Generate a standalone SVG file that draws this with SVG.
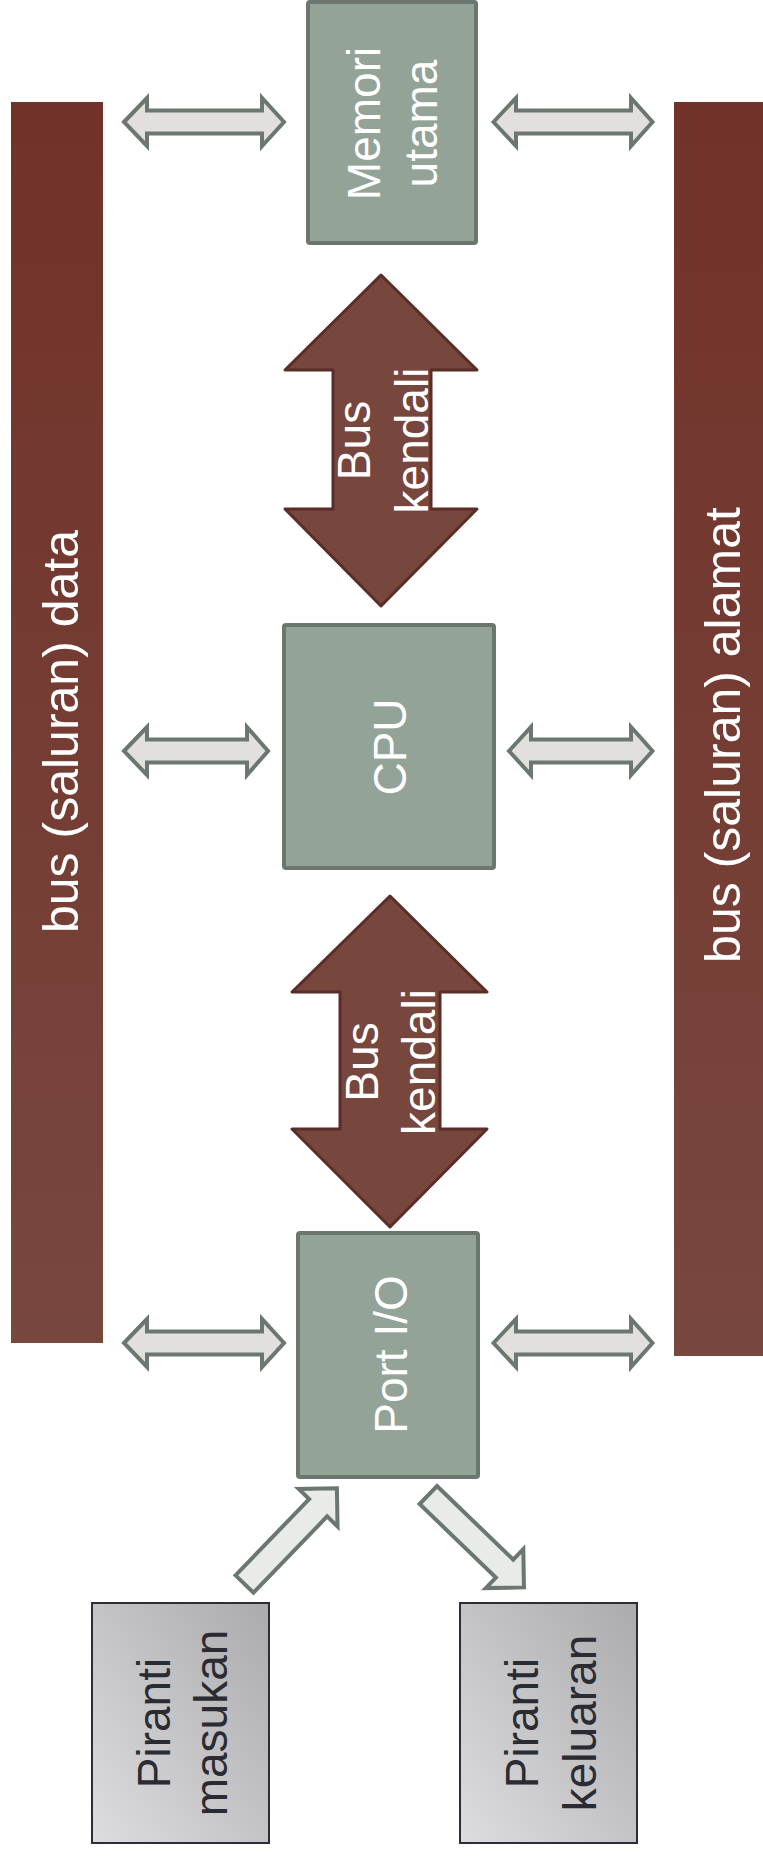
<svg xmlns="http://www.w3.org/2000/svg" width="763" height="1857" viewBox="0 0 763 1857">
  <defs>
    <linearGradient id="busGrad" x1="0" y1="0" x2="0" y2="1">
      <stop offset="0" stop-color="#713229"/>
      <stop offset="1" stop-color="#78473E"/>
    </linearGradient>
    <linearGradient id="devGrad" x1="1" y1="0" x2="0" y2="1">
      <stop offset="0" stop-color="#ABABAE"/>
      <stop offset="1" stop-color="#DDDDDF"/>
    </linearGradient>
    <style>
      .bus { fill: url(#busGrad); }
      .unit { fill: #93A398; stroke: #6B776E; stroke-width: 4; }
      .dev { fill: url(#devGrad); stroke: #2D2D35; stroke-width: 2; }
      .ctl { fill: #77463D; stroke: #5A2D28; stroke-width: 3; stroke-linejoin: round; }
      .dbl { fill: #E3DFDC; stroke: #6B786F; stroke-width: 4; stroke-linejoin: miter; }
      .io { fill: #E8EBE8; stroke: #6B786F; stroke-width: 4; stroke-linejoin: miter; }
      .t { font-family: "Liberation Sans", Arial, sans-serif; font-size: 46px; text-anchor: middle; fill: #FFFFFF; }
      .tb { font-size: 50px; }
      .td { fill: #2B2B33; }
    </style>
  </defs>

  <g id="bus-data">
    <rect class="bus" x="11" y="102" width="92" height="1241"/>
    <text class="t tb" transform="translate(57,731.5) rotate(-90)" x="0" y="21">bus (saluran) data</text>
  </g>

  <g id="bus-alamat">
    <rect class="bus" x="674" y="102" width="89" height="1254"/>
    <text class="t tb" transform="translate(718,735) rotate(-90)" x="0" y="22">bus (saluran) alamat</text>
  </g>

  <g id="memori-utama">
    <rect class="unit" x="308" y="2" width="168" height="241" rx="2"/>
    <text class="t" transform="translate(392,123.5) rotate(-90)"><tspan x="0" y="-12">Memori</tspan><tspan x="0" y="45">utama</tspan></text>
  </g>

  <g id="cpu">
    <rect class="unit" x="284" y="625" width="210" height="243" rx="2"/>
    <text class="t" transform="translate(389,747) rotate(-90)" x="0" y="17">CPU</text>
  </g>

  <g id="port-io">
    <rect class="unit" x="298" y="1233" width="180" height="244" rx="2"/>
    <text class="t" transform="translate(388,1354.5) rotate(-90)" x="0" y="19">Port I/O</text>
  </g>

  <g id="piranti-masukan">
    <rect class="dev" x="92" y="1603" width="177" height="240"/>
    <text class="t td" transform="translate(180.5,1723) rotate(-90)"><tspan x="0" y="-10.5">Piranti</tspan><tspan x="0" y="46">masukan</tspan></text>
  </g>

  <g id="piranti-keluaran">
    <rect class="dev" x="460" y="1603" width="177" height="240"/>
    <text class="t td" transform="translate(548.5,1723) rotate(-90)"><tspan x="0" y="-10.5">Piranti</tspan><tspan x="0" y="47">keluaran</tspan></text>
  </g>

  <g id="connectors">
    <!-- Bus kendali: Memori <-> CPU -->
    <g id="bus-kendali-1">
      <polygon class="ctl" points="381,275 477,370 431,370 431,509 477,509 381,606 285,509 333,509 333,370 285,370"/>
      <text class="t" transform="translate(381,440.5) rotate(-90)"><tspan x="0" y="-11">Bus</tspan><tspan x="0" y="47">kendali</tspan></text>
    </g>
    <!-- Bus kendali: CPU <-> Port I/O -->
    <g id="bus-kendali-2">
      <polygon class="ctl" points="390,896 487,992 440,992 440,1129 487,1129 390,1227 292,1129 340,1129 340,992 292,992"/>
      <text class="t" transform="translate(390,1062) rotate(-90)"><tspan x="0" y="-12">Bus</tspan><tspan x="0" y="45">kendali</tspan></text>
    </g>

    <!-- data bus <-> units -->
    <polygon class="dbl" points="124,122 147,98 147,110.5 262,110.5 262,98 284,122 262,146 262,133.5 147,133.5 147,146"/>
    <polygon class="dbl" points="124,751 147,727 147,739.5 247,739.5 247,727 268,751 247,775 247,762.5 147,762.5 147,775"/>
    <polygon class="dbl" points="124,1343 147,1319 147,1331.5 262,1331.5 262,1319 284,1343 262,1367 262,1354.5 147,1354.5 147,1367"/>

    <!-- address bus <-> units -->
    <polygon class="dbl" points="493.5,122 516,98 516,110.5 631,110.5 631,98 652.5,122 631,146 631,133.5 516,133.5 516,146"/>
    <polygon class="dbl" points="509,751 531,727 531,739.5 631,739.5 631,727 652.5,751 631,775 631,762.5 531,762.5 531,775"/>
    <polygon class="dbl" points="493.5,1343 516,1319 516,1331.5 631,1331.5 631,1319 652.5,1343 631,1367 631,1354.5 516,1354.5 516,1367"/>

    <!-- input device -> Port I/O -->
    <polygon class="io" transform="translate(244.5,1584) rotate(-46)" points="0,-12.5 106,-12.5 106,-27 133,0 106,27 106,12.5 0,12.5"/>
    <!-- Port I/O -> output device -->
    <polygon class="io" transform="translate(428.3,1495) rotate(44)" points="0,-12.5 106,-12.5 106,-27 133,0 106,27 106,12.5 0,12.5"/>
  </g>
</svg>
